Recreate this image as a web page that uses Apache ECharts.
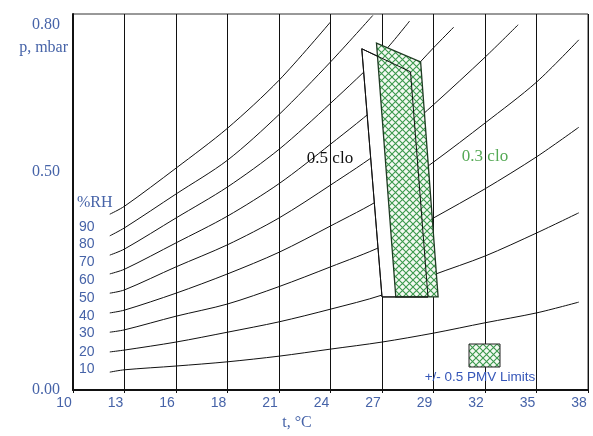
<!DOCTYPE html>
<html>
<head>
<meta charset="utf-8">
<script src="https://cdn.jsdelivr.net/npm/echarts@6/dist/echarts.min.js"></script>
<style>
  html, body { margin: 0; padding: 0; background: #fff; }
  #chart { width: 593px; height: 436px; }
</style>
</head>
<body>
<div id="chart"></div>
<script>
// axis ticks
var xTicks = [10, 12.8, 15.6, 18.4, 21.2, 24, 26.8, 29.6, 32.4, 35.2, 38];
var xLabels = ['10', '13', '16', '18', '21', '24', '27', '29', '32', '35', '38'];
var yTicks = [0, 0.5, 0.8];
var yLabels = ['0.00', '0.50', '0.80'];

// relative humidity curves  [t, p]
var rhNames = ['90', '80', '70', '60', '50', '40', '30', '20', '10'];
var rh90 = [[12.0, 0.374], [12.8, 0.391], [15.6, 0.472], [18.4, 0.557], [21.2, 0.659], [24.0, 0.783]];
var rh80 = [[12.0, 0.328], [12.8, 0.345], [15.6, 0.417], [18.4, 0.489], [21.2, 0.586], [24.0, 0.698], [26.3, 0.797]];
var rh70 = [[12.0, 0.287], [12.8, 0.300], [15.6, 0.366], [18.4, 0.432], [21.2, 0.512], [24.0, 0.610], [26.8, 0.715], [28.3, 0.785]];
var rh60 = [[12.0, 0.247], [12.8, 0.257], [15.6, 0.313], [18.4, 0.370], [21.2, 0.439], [24.0, 0.523], [26.8, 0.613], [29.6, 0.728], [30.7, 0.772]];
var rh50 = [[12.0, 0.206], [12.8, 0.213], [15.6, 0.262], [18.4, 0.309], [21.2, 0.366], [24.0, 0.436], [26.8, 0.511], [29.6, 0.607], [32.4, 0.708], [34.2, 0.777]];
var rh40 = [[12.0, 0.164], [12.8, 0.170], [15.6, 0.206], [18.4, 0.247], [21.2, 0.293], [24.0, 0.349], [26.8, 0.408], [29.6, 0.485], [32.4, 0.568], [35.2, 0.655], [37.5, 0.745]];
var rh30 = [[12.0, 0.123], [12.8, 0.128], [15.6, 0.157], [18.4, 0.183], [21.2, 0.220], [24.0, 0.262], [26.8, 0.306], [29.6, 0.366], [32.4, 0.428], [35.2, 0.496], [37.5, 0.559]];
var rh20 = [[12.0, 0.081], [12.8, 0.085], [15.6, 0.102], [18.4, 0.123], [21.2, 0.145], [24.0, 0.172], [26.8, 0.202], [29.6, 0.245], [32.4, 0.285], [35.2, 0.334], [37.5, 0.377]];
var rh10 = [[12.0, 0.038], [12.8, 0.043], [15.6, 0.051], [18.4, 0.060], [21.2, 0.072], [24.0, 0.087], [26.8, 0.102], [29.6, 0.121], [32.4, 0.143], [35.2, 0.164], [37.5, 0.187]];

// comfort zones
var zone05 = [[25.7, 0.726], [28.35, 0.677], [29.3, 0.198], [26.8, 0.198]];
var zone03 = [[26.5, 0.738], [28.9, 0.698], [29.85, 0.198], [27.55, 0.198]];

var blue = '#4663a8';
var serif = '"Liberation Serif", "DejaVu Serif", serif';
var sans = '"Liberation Sans", Arial, sans-serif';

function makeHatch() {
  var c = document.createElement('canvas');
  c.width = 7; c.height = 7;
  var ctx = c.getContext('2d');
  ctx.fillStyle = '#f3f9f2';
  ctx.fillRect(0, 0, 7, 7);
  ctx.strokeStyle = '#3a984b';
  ctx.lineWidth = 1.1;
  ctx.beginPath();
  ctx.moveTo(0, 0); ctx.lineTo(7, 7);
  ctx.moveTo(7, 0); ctx.lineTo(0, 7);
  ctx.stroke();
  return c;
}
var hatch = makeHatch();

var curves = [rh90, rh80, rh70, rh60, rh50, rh40, rh30, rh20, rh10];
var series = curves.map(function (d, i) {
  return {
    name: rhNames[i] + '%',
    type: 'line',
    data: d,
    smooth: 0.3,
    showSymbol: false,
    silent: true,
    z: 2,
    lineStyle: { color: '#111', width: 1 }
  };
});

series.push({
  type: 'custom',
  silent: true,
  z: 5,
  data: [[26, 0.5]],
  renderItem: function (params, api) {
    var w = zone05.map(function (p) { return api.coord(p); });
    var h = zone03.map(function (p) { return api.coord(p); });
    return {
      type: 'group',
      children: [
        { type: 'polygon', shape: { points: w }, style: { fill: '#fff', stroke: '#111', lineWidth: 1 } },
        { type: 'polygon', shape: { points: h }, style: { fill: { image: hatch, repeat: 'repeat' }, stroke: '#1e3a22', lineWidth: 1.3 } },
        { type: 'polyline', shape: { points: w.concat([w[0]]) }, style: { fill: null, stroke: '#111', lineWidth: 1 } }
      ]
    };
  }
});

var rhY = [227, 244, 262, 280, 298, 316, 333, 352, 369];
var graphics = [
  { type: 'text', x: 68, y: 48, style: { text: 'p, mbar', fill: blue, font: '16px ' + serif, align: 'right', textAlign: 'right', verticalAlign: 'middle', textVerticalAlign: 'middle' } },
  { type: 'text', x: 77, y: 203, style: { text: '%RH', fill: blue, font: '16px ' + serif, align: 'left', textAlign: 'left', verticalAlign: 'middle', textVerticalAlign: 'middle' } },
  { type: 'text', x: 297, y: 423, style: { text: 't, \u00B0C', fill: blue, font: '16px ' + serif, align: 'center', textAlign: 'center', verticalAlign: 'middle', textVerticalAlign: 'middle' } },
  { type: 'text', x: 330, y: 159, z: 10, style: { text: '0.5 clo', fill: '#111', font: '17px ' + serif, align: 'center', textAlign: 'center', verticalAlign: 'middle', textVerticalAlign: 'middle' } },
  { type: 'text', x: 485, y: 157, z: 10, style: { text: '0.3 clo', fill: '#55a955', font: '17px ' + serif, align: 'center', textAlign: 'center', verticalAlign: 'middle', textVerticalAlign: 'middle' } },
  { type: 'rect', x: 469, y: 344, z: 10, shape: { width: 31, height: 23 }, style: { fill: { image: hatch, repeat: 'repeat' }, stroke: '#222', lineWidth: 1 } },
  { type: 'text', x: 480, y: 377, z: 10, style: { text: '+/- 0.5 PMV Limits', fill: '#3556b8', font: '13.5px ' + sans, align: 'center', textAlign: 'center', verticalAlign: 'middle', textVerticalAlign: 'middle' } }
];
rhNames.forEach(function (n, i) {
  graphics.push({ type: 'text', x: 79, y: rhY[i], style: { text: n, fill: blue, font: '14px ' + sans, align: 'left', textAlign: 'left', verticalAlign: 'middle', textVerticalAlign: 'middle' } });
});

var chart = echarts.init(document.getElementById('chart'), null, { renderer: 'canvas' });
chart.setOption({
  animation: false,
  backgroundColor: '#fff',
  grid: { left: 73, right: 5, top: 14, bottom: 46, show: true, borderColor: '#333', borderWidth: 1, outerBoundsMode: 'none' },
  xAxis: {
    type: 'value',
    min: 10,
    max: 38,
    axisLine: { show: true, onZero: false, lineStyle: { color: '#111', width: 2 } },
    axisTick: { show: true, customValues: xTicks, length: 3, lineStyle: { color: '#111' } },
    axisLabel: {
      customValues: xTicks,
      color: blue,
      fontFamily: sans,
      fontSize: 14,
      margin: 6,
      padding: [0, 18, 0, 0],
      formatter: function (v) {
        var i = xTicks.findIndex(function (t) { return Math.abs(t - v) < 1e-6; });
        return i >= 0 ? xLabels[i] : '';
      }
    },
    splitLine: { show: true, lineStyle: { color: '#111', width: 1 } }
  },
  yAxis: {
    type: 'value',
    min: 0,
    max: 0.8,
    axisLine: { show: true, onZero: false, lineStyle: { color: '#111', width: 2 } },
    axisTick: { show: false },
    splitLine: { show: false },
    axisLabel: {
      customValues: yTicks,
      margin: 13,
      formatter: function (v) {
        var i = yTicks.findIndex(function (t) { return Math.abs(t - v) < 1e-6; });
        return i >= 0 ? '{y' + i + '|' + yLabels[i] + '}' : '';
      },
      rich: {
        y0: { color: blue, fontFamily: serif, fontSize: 16, padding: [0, 0, 0, 0] },
        y1: { color: blue, fontFamily: serif, fontSize: 16, padding: [34, 0, 0, 0] },
        y2: { color: blue, fontFamily: serif, fontSize: 16, padding: [22, 0, 0, 0] }
      }
    }
  },
  graphic: graphics,
  series: series
});
</script>
</body>
</html>
